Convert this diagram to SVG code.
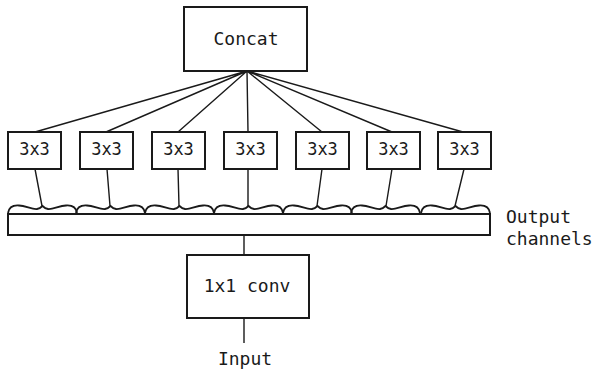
<svg xmlns="http://www.w3.org/2000/svg" xmlns:xlink="http://www.w3.org/1999/xlink" width="596" height="375" viewBox="0 0 596 375">
<style>
.box{fill:#fff;stroke:#1a1a1a;stroke-width:2}
.ln{fill:none;stroke:#1a1a1a;stroke-width:1.4}
.wv{fill:none;stroke:#1a1a1a;stroke-width:1.8}
.t{font-family:"DejaVu Sans Mono","Liberation Mono",monospace;font-size:18px;fill:#1a1a1a;text-anchor:middle}
.s{font-size:17px}
.l{text-anchor:start}
</style>
<defs>
<path id="brace" class="wv" d="M0,8 C1,2 5,0 11,0.5 C18,1 24,4.5 29,4 C31.5,3.8 33.5,2 34.5,1 C35.5,2 37.5,3.8 40,4 C45,4.5 51,1 58,0.5 C64,0 68,2 69,8"/>
</defs>
<rect width="596" height="375" fill="#fff"/>
<g id="connectors">
<path class="ln" d="M247,71 L35,132 M247,71 L106,132 M247,71 L178,132 M247,71 L248,132 M247,71 L322,132 M247,71 L392,132 M247,71 L463,132"/>
<path class="ln" d="M35,169 L42,206 M107,169 L110,206 M178,169 L179,206 M248,169 L248,206 M322,169 L317,206 M392,169 L386,206 M464,169 L455,206"/>
<path class="ln" d="M244,235 L244,255 M244,318 L244,343"/>
</g>
<g id="concat"><rect class="box" x="184" y="7" width="123" height="64"/><text class="t" x="246" y="45">Concat</text></g>
<g id="c1"><rect class="box" x="8" y="132" width="53" height="37"/><text class="t s" x="34.5" y="155">3x3</text></g>
<g id="c2"><rect class="box" x="80" y="132" width="53" height="37"/><text class="t s" x="106.5" y="155">3x3</text></g>
<g id="c3"><rect class="box" x="152" y="132" width="53" height="37"/><text class="t s" x="178.5" y="155">3x3</text></g>
<g id="c4"><rect class="box" x="224" y="132" width="53" height="37"/><text class="t s" x="250.5" y="155">3x3</text></g>
<g id="c5"><rect class="box" x="296" y="132" width="53" height="37"/><text class="t s" x="322.5" y="155">3x3</text></g>
<g id="c6"><rect class="box" x="367" y="132" width="53" height="37"/><text class="t s" x="393.5" y="155">3x3</text></g>
<g id="c7"><rect class="box" x="438" y="132" width="53" height="37"/><text class="t s" x="464.5" y="155">3x3</text></g>
<g id="channels">
<use xlink:href="#brace" transform="translate(8,205)"/>
<use xlink:href="#brace" transform="translate(76,205)"/>
<use xlink:href="#brace" transform="translate(145,205)"/>
<use xlink:href="#brace" transform="translate(214,205)"/>
<use xlink:href="#brace" transform="translate(283,205)"/>
<use xlink:href="#brace" transform="translate(351,205)"/>
<use xlink:href="#brace" transform="translate(421,205)"/>
<rect class="box" x="8" y="214" width="482" height="21"/>
<text class="t l" x="506" y="223">Output</text>
<text class="t l" x="506" y="245">channels</text>
</g>
<g id="conv"><rect class="box" x="187" y="255" width="122" height="63"/><text class="t" x="247" y="292">1x1 conv</text></g>
<g id="input"><text class="t" x="245" y="365">Input</text></g>
</svg>
